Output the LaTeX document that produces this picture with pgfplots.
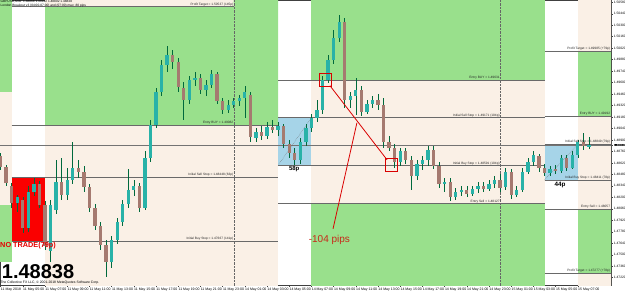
\documentclass[border=0pt]{standalone}
\usepackage{fontspec}
\setmainfont{Liberation Sans}
\usepackage{pgfplots}
\pgfplotsset{compat=1.18}
\usepackage{pgfplotstable}
\definecolor{mtgreen}{RGB}{153,224,140}
\definecolor{mtbeige}{RGB}{250,240,230}
\definecolor{mtblue}{RGB}{166,212,232}
\definecolor{mtred}{RGB}{250,0,0}
\definecolor{bullc}{RGB}{40,178,168}
\definecolor{bearc}{RGB}{165,122,112}
\definecolor{wickc}{RGB}{0,105,60}
\definecolor{lvl}{RGB}{105,105,105}
\definecolor{brick}{RGB}{200,40,25}

\pgfplotstableread{
n o h l c
0 1.4870 1.4874 1.4854 1.4857
1 1.4857 1.4860 1.4834 1.4838
2 1.4834 1.4838 1.4807 1.4813
3 1.4813 1.4823 1.4802 1.4820
4 1.4817 1.4821 1.4777 1.4783
5 1.4783 1.4834 1.4778 1.4827
6 1.4827 1.4844 1.4822 1.4836
7 1.4836 1.4840 1.4807 1.4811
8 1.4811 1.4815 1.4756 1.4760
9 1.4754 1.4817 1.4741 1.4810
10 1.4805 1.4866 1.4800 1.4839
11 1.4839 1.4868 1.4817 1.4823
12 1.4823 1.4856 1.4817 1.4841
13 1.4841 1.4887 1.4836 1.4856
14 1.4856 1.4866 1.4844 1.4851
15 1.4851 1.4858 1.4827 1.4832
16 1.4832 1.4836 1.4802 1.4807
17 1.4807 1.4812 1.4780 1.4785
18 1.4785 1.4790 1.4756 1.4762
19 1.4762 1.4768 1.4723 1.4741
20 1.4741 1.4773 1.4734 1.4768
21 1.4768 1.4795 1.4763 1.4790
22 1.4790 1.4817 1.4785 1.4812
23 1.4812 1.4854 1.4807 1.4829
24 1.4829 1.4841 1.4822 1.4834
25 1.4834 1.4838 1.4802 1.4807
26 1.4807 1.4876 1.4804 1.4868
27 1.4868 1.4915 1.4863 1.4908
28 1.4908 1.4954 1.4905 1.4949
29 1.4949 1.4988 1.4944 1.4981
30 1.4981 1.5005 1.4973 1.4994
31 1.4994 1.5000 1.4976 1.4985
32 1.4985 1.4990 1.4949 1.4954
33 1.4954 1.4961 1.4915 1.4939
34 1.4939 1.4968 1.4934 1.4963
35 1.4963 1.4973 1.4956 1.4966
36 1.4966 1.4971 1.4946 1.4951
37 1.4951 1.4963 1.4944 1.4957
38 1.4957 1.4976 1.4954 1.4970
39 1.4970 1.4973 1.4934 1.4937
40 1.4937 1.4941 1.4922 1.4927
41 1.4927 1.4939 1.4923 1.4933
42 1.4933 1.4941 1.4929 1.4938
43 1.4938 1.4945 1.4932 1.4941
44 1.4941 1.4956 1.4917 1.4949
45 1.4945 1.4949 1.4888 1.4893
46 1.4893 1.4905 1.4888 1.4900
47 1.4900 1.4907 1.4890 1.4895
48 1.4895 1.4912 1.4891 1.4906
49 1.4906 1.4915 1.4899 1.4902
50 1.4902 1.4912 1.4895 1.4907
51 1.4907 1.4910 1.4880 1.4885
52 1.4885 1.4890 1.4868 1.4874
53 1.4874 1.4880 1.4860 1.4865
54 1.4865 1.4893 1.4861 1.4888
55 1.4888 1.4910 1.4883 1.4905
56 1.4905 1.4922 1.4900 1.4917
57 1.4917 1.4939 1.4912 1.4927
58 1.4927 1.4968 1.4922 1.4963
59 1.4963 1.4994 1.4959 1.4988
60 1.4988 1.5024 1.4983 1.5015
61 1.5015 1.5043 1.5010 1.5034
62 1.5034 1.5039 1.4929 1.4939
63 1.4939 1.4949 1.4929 1.4944
64 1.4944 1.4966 1.4921 1.4951
65 1.4951 1.4956 1.4919 1.4924
66 1.4924 1.4939 1.4922 1.4934
67 1.4934 1.4944 1.4929 1.4939
68 1.4939 1.4946 1.4927 1.4932
69 1.4932 1.4941 1.4880 1.4888
70 1.4888 1.4895 1.4876 1.4880
71 1.4880 1.4885 1.4856 1.4863
72 1.4863 1.4880 1.4858 1.4876
73 1.4876 1.4880 1.4861 1.4866
74 1.4866 1.4871 1.4829 1.4846
75 1.4846 1.4866 1.4841 1.4861
76 1.4861 1.4871 1.4854 1.4866
77 1.4866 1.4883 1.4858 1.4878
78 1.4878 1.4883 1.4854 1.4858
79 1.4858 1.4863 1.4832 1.4836
80 1.4836 1.4844 1.4827 1.4839
81 1.4839 1.4844 1.4815 1.4820
82 1.4820 1.4832 1.4817 1.4827
83 1.4827 1.4834 1.4822 1.4829
84 1.4829 1.4834 1.4821 1.4824
85 1.4824 1.4834 1.4822 1.4830
86 1.4830 1.4839 1.4825 1.4834
87 1.4834 1.4839 1.4827 1.4830
88 1.4830 1.4841 1.4828 1.4836
89 1.4836 1.4846 1.4832 1.4841
90 1.4841 1.4849 1.4827 1.4832
91 1.4832 1.4856 1.4829 1.4851
92 1.4851 1.4854 1.4818 1.4823
93 1.4823 1.4834 1.4820 1.4829
94 1.4829 1.4856 1.4827 1.4851
95 1.4851 1.4868 1.4848 1.4863
96 1.4863 1.4876 1.4858 1.4871
97 1.4871 1.4873 1.4851 1.4856
98 1.4856 1.4861 1.4846 1.4850
99 1.4850 1.4858 1.4846 1.4855
100 1.4855 1.4860 1.4849 1.4852
101 1.4852 1.4872 1.4850 1.4868
102 1.4868 1.4871 1.4852 1.4856
103 1.4856 1.4876 1.4854 1.4872
104 1.4872 1.4890 1.4868 1.4887
105 1.4887 1.4898 1.4878 1.4882
106 1.4882 1.4894 1.4879 1.48838
}\candles

\begin{document}
\begin{tikzpicture}
\path[use as bounding box] (0,0) rectangle (625pt,293pt);
\begin{axis}[
  at={(0pt,8pt)}, anchor=south west,
  scale only axis, width=611pt, height=285pt,
  xmin=-0.108, xmax=109.98, ymin=1.4713, ymax=1.50607,
  clip mode=individual,
  axis line style={draw=black!75, line width=0.4pt},
  xtick={0,4,...,104},
  xticklabels={11 May 2018, 11 May 05:00, 11 May 07:00, 11 May 09:00, 11 May 11:00, 11 May 13:00, 11 May 15:00, 11 May 17:00, 11 May 19:00, 11 May 21:00, 11 May 23:00, 14 May 01:00, 14 May 03:00, 14 May 05:00, 14 May 07:00, 14 May 09:00, 14 May 11:00, 14 May 13:00, 14 May 15:00, 14 May 17:00, 14 May 19:00, 14 May 21:00, 14 May 23:00, 15 May 01:00, 15 May 03:00, 15 May 05:00, 15 May 07:00},
  xtick pos=bottom, ytick pos=right, yticklabel pos=right,
  tick align=outside, major tick length=1.8pt,
  tick style={black!75, line width=0.3pt},
  x tick label style={font=\fontsize{3.5}{4}\selectfont, anchor=north west, inner sep=0pt, yshift=-0.8pt, xshift=0.2pt},
  ytick={1.4722,1.4736,1.4750,1.4764,1.4778,1.4792,1.4806,1.4820,1.4834,1.4848,1.4862,1.4876,1.4890,1.4904,1.4918,1.4932,1.4946,1.4960,1.4974,1.4988,1.5002,1.5016,1.5030,1.5044,1.5058},
  scaled y ticks=false,
  y tick label style={font=\fontsize{3.3}{4}\selectfont, anchor=west, inner sep=0.3pt, xshift=0.6pt},
  yticklabel style={/pgf/number format/fixed, /pgf/number format/fixed zerofill, /pgf/number format/precision=5, /pgf/number format/1000 sep={}, /pgf/number format/assume math mode=true},
  extra y ticks={1.48838},
  extra y tick style={yticklabel style={fill=black, text=white}},
]
% ---- background zones ----
\addplot[fill=mtgreen, draw=none, forget plot] coordinates {(-1,1.5070) (2,1.5070) (2,1.4949) (-1,1.4949)} -- cycle;
\addplot[fill=mtbeige, draw=none, forget plot] coordinates {(-1,1.4949) (2,1.4949) (2,1.4811) (-1,1.4811)} -- cycle;
\addplot[fill=mtgreen, draw=none, forget plot] coordinates {(-1,1.4811) (2,1.4811) (2,1.4741) (-1,1.4741)} -- cycle;
% zone A
\addplot[fill=mtbeige, draw=none, forget plot] coordinates {(8,1.5070) (42,1.5070) (42,1.5053) (8,1.5053)} -- cycle;
\addplot[fill=mtgreen, draw=none, forget plot] coordinates {(8,1.5053) (42,1.5053) (42,1.5070) (50,1.5070) (50,1.49082) (8,1.49082)} -- cycle;
\addplot[fill=mtbeige, draw=none, forget plot] coordinates {(8,1.49082) (50,1.49082) (50,1.4700) (8,1.4700)} -- cycle;
% zone C
\addplot[fill=mtgreen, draw=none, forget plot] coordinates {(56,1.5070) (98,1.5070) (98,1.49631) (56,1.49631)} -- cycle;
\addplot[fill=mtbeige, draw=none, forget plot] coordinates {(56,1.49631) (98,1.49631) (98,1.48127) (56,1.48127)} -- cycle;
\addplot[fill=mtgreen, draw=none, forget plot] coordinates {(56,1.48127) (98,1.48127) (98,1.4700) (56,1.4700)} -- cycle;
% zone D
\addplot[fill=mtbeige, draw=none, forget plot] coordinates {(104,1.5070) (111,1.5070) (111,1.49985) (104,1.49985)} -- cycle;
\addplot[fill=mtgreen, draw=none, forget plot] coordinates {(104,1.49985) (111,1.49985) (111,1.49192) (104,1.49192)} -- cycle;
\addplot[fill=mtbeige, draw=none, forget plot] coordinates {(104,1.49192) (111,1.49192) (111,1.48057) (104,1.48057)} -- cycle;
\addplot[fill=mtgreen, draw=none, forget plot] coordinates {(104,1.48057) (111,1.48057) (111,1.47277) (104,1.47277)} -- cycle;
\addplot[fill=mtbeige, draw=none, forget plot] coordinates {(104,1.47277) (111,1.47277) (111,1.4700) (104,1.4700)} -- cycle;
% range boxes
\addplot[fill=mtred, draw=none, forget plot] coordinates {(2,1.48448) (8,1.48448) (8,1.47667) (2,1.47667)} -- cycle;
\addplot[fill=mtblue, draw=none, forget plot] coordinates {(50,1.49171) (56,1.49171) (56,1.48591) (50,1.48591)} -- cycle;
\addplot[fill=mtblue, draw=none, forget plot] coordinates {(98,1.48849) (104,1.48849) (104,1.48411) (98,1.48411)} -- cycle;
\addplot[lvl, densely dotted, line width=0.4pt, forget plot] coordinates {(50,1.48591) (56,1.49171)};
\addplot[lvl, densely dotted, line width=0.4pt, forget plot] coordinates {(98,1.48411) (104,1.48849)};
% day separators
\addplot[black!60, densely dotted, line width=0.4pt, forget plot] coordinates {(42,1.4700) (42,1.5070)};
\addplot[black!60, densely dotted, line width=0.4pt, forget plot] coordinates {(90,1.4700) (90,1.5070)};
% ---- level lines ----
\addplot[lvl, line width=0.7pt, forget plot] coordinates {(2,1.5053) (42,1.5053)};
\addplot[lvl, line width=0.7pt, forget plot] coordinates {(2,1.49082) (50,1.49082)};
\addplot[lvl, line width=0.7pt, forget plot] coordinates {(2,1.48448) (50,1.48448)};
\addplot[lvl, line width=0.7pt, forget plot] coordinates {(2,1.47667) (50,1.47667)};
\addplot[lvl, line width=0.7pt, forget plot] coordinates {(50,1.49631) (98,1.49631)};
\addplot[lvl, line width=0.7pt, forget plot] coordinates {(50,1.49171) (98,1.49171)};
\addplot[lvl, line width=0.7pt, forget plot] coordinates {(50,1.48591) (98,1.48591)};
\addplot[lvl, line width=0.7pt, forget plot] coordinates {(50,1.48127) (98,1.48127)};
\addplot[lvl, line width=0.7pt, forget plot] coordinates {(98,1.49985) (111,1.49985)};
\addplot[lvl, line width=0.7pt, forget plot] coordinates {(98,1.49192) (111,1.49192)};
\addplot[lvl, line width=0.7pt, forget plot] coordinates {(98,1.48849) (111,1.48849)};
\addplot[lvl, line width=0.7pt, forget plot] coordinates {(98,1.48411) (111,1.48411)};
\addplot[lvl, line width=0.7pt, forget plot] coordinates {(98,1.48057) (111,1.48057)};
\addplot[lvl, line width=0.7pt, forget plot] coordinates {(98,1.47277) (111,1.47277)};
% current price line
\addplot[black!55, line width=0.6pt, forget plot] coordinates {(-1,1.48838) (111,1.48838)};
% ---- candles ----
\addplot[draw=none, mark=none, forget plot,
  error bars/.cd, y dir=both, y explicit, error mark=none,
  error bar style={draw=wickc, line width=0.6pt, solid}]
  table[x=n, y expr={(\thisrow{h}+\thisrow{l})/2},
        y error plus expr={(\thisrow{h}-\thisrow{l})/2},
        y error minus expr={(\thisrow{h}-\thisrow{l})/2}] {\candles};
\addplot[draw=none, mark=none, forget plot, restrict x to domain=-1:120,
  error bars/.cd, y dir=both, y explicit, error mark=none,
  error bar style={draw=bullc, line width=3.3pt, solid, line cap=butt}]
  table[x expr={\thisrow{c}>\thisrow{o} ? \thisrow{n} : -50}, y expr={(\thisrow{o}+\thisrow{c})/2},
        y error plus expr={abs(\thisrow{c}-\thisrow{o})/2},
        y error minus expr={abs(\thisrow{c}-\thisrow{o})/2}] {\candles};
\addplot[draw=none, mark=none, forget plot, restrict x to domain=-1:120,
  error bars/.cd, y dir=both, y explicit, error mark=none,
  error bar style={draw=bearc, line width=3.3pt, solid, line cap=butt}]
  table[x expr={\thisrow{c}>\thisrow{o} ? -50 : \thisrow{n}}, y expr={(\thisrow{o}+\thisrow{c})/2},
        y error plus expr={abs(\thisrow{c}-\thisrow{o})/2},
        y error minus expr={abs(\thisrow{c}-\thisrow{o})/2}] {\candles};
% ---- trade annotation ----
\addplot[red!85!black, line width=0.6pt, forget plot] coordinates {(57.4,1.49707) (59.5,1.49707) (59.5,1.49549) (57.4,1.49549)} -- cycle;
\addplot[red!85!black, line width=0.6pt, forget plot] coordinates {(69.3,1.48670) (71.4,1.48670) (71.4,1.48512) (69.3,1.48512)} -- cycle;
\addplot[red!85!black, line width=0.8pt, forget plot] coordinates {(59.35,1.49561) (69.62,1.48658)};
\addplot[red!85!black, line width=0.8pt, forget plot] coordinates {(59.9,1.47816) (64.2,1.49109)};
% ---- labels ----
\tikzset{lab/.style={font=\fontsize{3.2}{3.6}\selectfont, inner sep=0.3pt, anchor=south east, text=black!85}}
\node[lab] at (axis cs:42,1.5053) {Profit Target = 1.50537 (145p)};
\node[lab] at (axis cs:42,1.49082) {Entry BUY = 1.49082};
\node[lab] at (axis cs:42,1.48448) {Initial Sell Stop = 1.48448 (63p)};
\node[lab] at (axis cs:42,1.47667) {Initial Buy Stop = 1.47667 (141p)};
\node[lab] at (axis cs:90,1.49631) {Entry BUY = 1.49631};
\node[lab] at (axis cs:90,1.49171) {Initial Sell Stop = 1.49171 (104p)};
\node[lab] at (axis cs:90,1.48591) {Initial Buy Stop = 1.48591 (104p)};
\node[lab] at (axis cs:90,1.48127) {Entry Sell = 1.48127};
\node[lab] at (axis cs:109.9,1.49985) {Profit Target = 1.49985 (+79p)};
\node[lab] at (axis cs:109.9,1.49192) {Entry BUY = 1.49192};
\node[lab] at (axis cs:109.9,1.48849) {Initial Sell Stop = 1.48849 (79p)};
\node[lab] at (axis cs:109.9,1.48411) {Initial Buy Stop = 1.48411 (78p)};
\node[lab] at (axis cs:109.9,1.48057) {Entry Sell = 1.48057};
\node[lab] at (axis cs:109.9,1.47277) {Profit Target = 1.47277 (+78p)};
\node[font=\fontsize{3.2}{3.6}\selectfont, anchor=north west, inner sep=0.5pt, align=left] at (rel axis cs:0,1) {GBPUSD,M30\ \ 1.48868 1.48912 1.48802 1.48838\\London Breakout v3 (04:00-07:00) and (07:00) max: 80 pips};
\node[font=\fontsize{7.3}{8}\selectfont\bfseries, text=red!90!black, anchor=north west, inner sep=0pt] at (axis cs:-0.1,1.4765) {NO TRADE(79p)};
\node[font=\fontsize{20}{22}\selectfont\bfseries, anchor=base west, inner sep=0pt] at (axis cs:0.2,1.47215) {1.48838};
\node[font=\fontsize{3.4}{4}\selectfont, anchor=south west, inner sep=0.3pt] at (rel axis cs:0,0) {The Collective FX LLC, \textcopyright\ 2001-2018 MetaQuotes Software Corp.};
\node[font=\fontsize{6}{7}\selectfont\bfseries, inner sep=0pt] at (axis cs:52.9,1.4854) {58p};
\node[font=\fontsize{6.3}{7}\selectfont\bfseries, inner sep=0pt] at (axis cs:100.8,1.4835) {44p};
\node[font=\fontsize{10}{11}\selectfont, text=brick, anchor=west, inner sep=0pt] at (axis cs:55.5,1.4768) {-104 pips};
\end{axis}
\end{tikzpicture}
\end{document}
